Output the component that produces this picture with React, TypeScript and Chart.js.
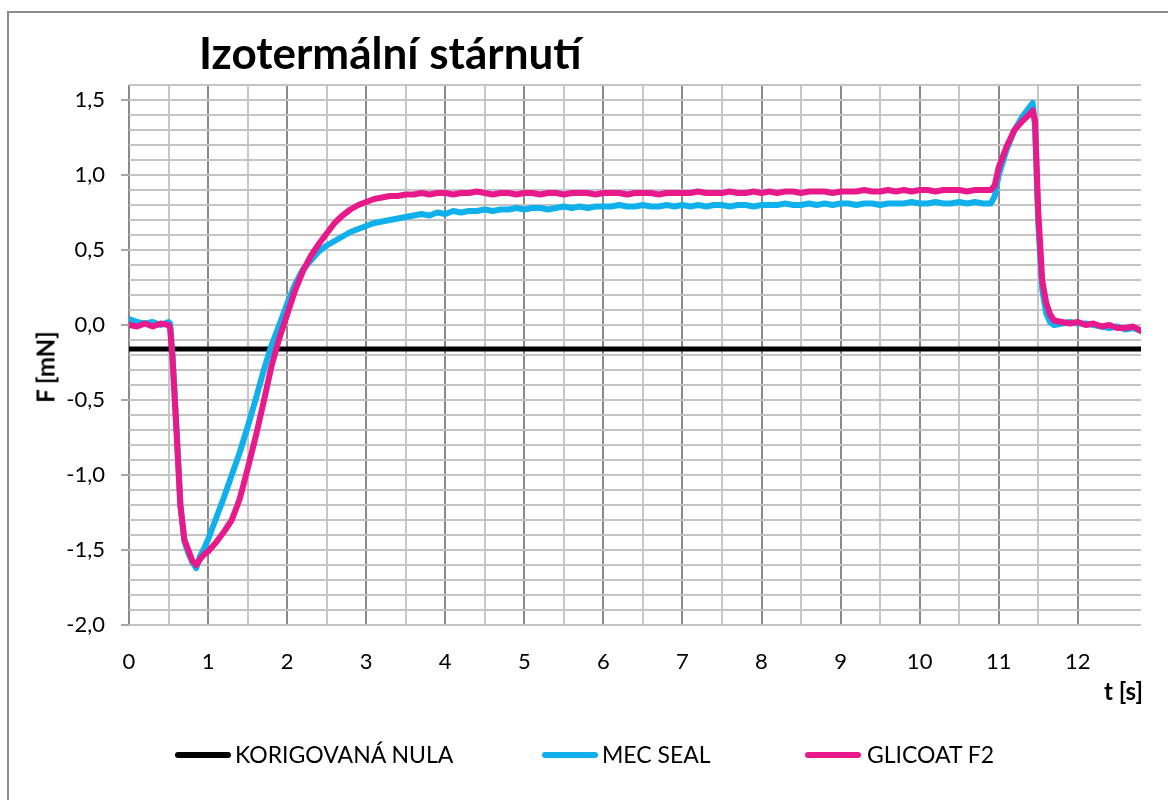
import React, { useEffect, useRef } from "react";
import { Chart, registerables } from "chart.js";

Chart.register(...registerables);

const TIME = [
  0, 0.1, 0.2, 0.3, 0.4, 0.5, 0.52, 0.55, 0.6, 0.65, 0.7, 0.75, 0.8, 0.85, 0.9, 0.95, 1.0,
  1.1, 1.2, 1.3, 1.4, 1.5, 1.6, 1.7, 1.8, 1.9, 2.0,
  2.1, 2.2, 2.3, 2.4, 2.5, 2.6, 2.7, 2.8, 2.9, 3.0,
  3.1, 3.2, 3.3, 3.4, 3.5, 3.6, 3.7, 3.8, 3.9, 4.0,
  4.1, 4.2, 4.3, 4.4, 4.5, 4.6, 4.7, 4.8, 4.9, 5.0,
  5.1, 5.2, 5.3, 5.4, 5.5, 5.6, 5.7, 5.8, 5.9, 6.0,
  6.1, 6.2, 6.3, 6.4, 6.5, 6.6, 6.7, 6.8, 6.9, 7.0,
  7.1, 7.2, 7.3, 7.4, 7.5, 7.6, 7.7, 7.8, 7.9, 8.0,
  8.1, 8.2, 8.3, 8.4, 8.5, 8.6, 8.7, 8.8, 8.9, 9.0,
  9.1, 9.2, 9.3, 9.4, 9.5, 9.6, 9.7, 9.8, 9.9, 10.0,
  10.1, 10.2, 10.3, 10.4, 10.5, 10.6, 10.7, 10.8, 10.9,
  10.95, 11.0, 11.1, 11.2, 11.3, 11.4, 11.43, 11.46, 11.5, 11.55, 11.6, 11.65, 11.7,
  11.8, 11.9, 12.0, 12.1, 12.2, 12.3, 12.4, 12.5, 12.6, 12.7, 12.8,
];

const MEC_SEAL = [
  0.04, 0.02, 0.01, 0.02, 0.0, 0.02, 0.01, -0.2, -0.68, -1.2, -1.44, -1.52, -1.58, -1.62, -1.54, -1.49, -1.43,
  -1.29, -1.15, -1.0, -0.85, -0.68, -0.5, -0.31, -0.14, 0.0, 0.14,
  0.27, 0.37, 0.43, 0.49, 0.53, 0.56, 0.59, 0.62, 0.64, 0.66,
  0.68, 0.69, 0.70, 0.71, 0.72, 0.73, 0.74, 0.73, 0.75, 0.74,
  0.76, 0.75, 0.76, 0.76, 0.77, 0.76, 0.77, 0.77, 0.78, 0.77,
  0.78, 0.78, 0.77, 0.78, 0.79, 0.78, 0.79, 0.78, 0.79, 0.79,
  0.79, 0.80, 0.79, 0.79, 0.80, 0.79, 0.79, 0.80, 0.79, 0.80,
  0.79, 0.80, 0.79, 0.80, 0.80, 0.79, 0.80, 0.80, 0.79, 0.80,
  0.80, 0.80, 0.81, 0.80, 0.80, 0.81, 0.80, 0.81, 0.80, 0.81,
  0.81, 0.80, 0.81, 0.81, 0.80, 0.81, 0.81, 0.81, 0.82, 0.81,
  0.81, 0.82, 0.81, 0.81, 0.82, 0.81, 0.82, 0.81, 0.81,
  0.86, 1.0, 1.17, 1.3, 1.39, 1.46, 1.48, 1.32, 0.68, 0.24, 0.08, 0.02, 0.0,
  0.01, 0.02, 0.01, 0.01, 0.0, -0.01, -0.02, -0.01, -0.03, -0.02, -0.04,
];

const GLICOAT_F2 = [
  0.0, -0.01, 0.01, -0.01, 0.01, 0.0, -0.02, -0.22, -0.7, -1.2, -1.43, -1.5, -1.57, -1.6, -1.56, -1.53, -1.51,
  -1.45, -1.38, -1.3, -1.16, -0.96, -0.75, -0.52, -0.28, -0.09, 0.07,
  0.23, 0.36, 0.46, 0.54, 0.61, 0.68, 0.73, 0.77, 0.80, 0.82,
  0.84, 0.85, 0.86, 0.86, 0.87, 0.87, 0.88, 0.87, 0.88, 0.88,
  0.87, 0.88, 0.88, 0.89, 0.88, 0.87, 0.88, 0.88, 0.87, 0.88,
  0.88, 0.87, 0.88, 0.88, 0.87, 0.88, 0.88, 0.88, 0.87, 0.88,
  0.88, 0.88, 0.87, 0.88, 0.88, 0.88, 0.87, 0.88, 0.88, 0.88,
  0.88, 0.89, 0.88, 0.88, 0.88, 0.89, 0.88, 0.88, 0.89, 0.88,
  0.89, 0.88, 0.89, 0.89, 0.88, 0.89, 0.89, 0.89, 0.88, 0.89,
  0.89, 0.89, 0.90, 0.89, 0.89, 0.90, 0.89, 0.90, 0.89, 0.90,
  0.90, 0.89, 0.90, 0.90, 0.90, 0.89, 0.90, 0.90, 0.90,
  0.93, 1.05, 1.19, 1.3, 1.36, 1.41, 1.43, 1.36, 0.76, 0.3, 0.15, 0.07, 0.03,
  0.02, 0.01, 0.02, 0.0, 0.01, -0.01, 0.0, -0.02, -0.02, -0.01, -0.04,
];

const NULA_T = [0, 12.8];
const NULA_F = [-0.16, -0.16];

const SERIES_NAMES = ["KORIGOVANÁ NULA", "MEC SEAL", "GLICOAT F2"];
const SERIES_COLORS = ["#000000", "#0fb0ec", "#e8198b"];

const TITLE = "Izotermální stárnutí";
const Y_TITLE = "F [mN]";
const X_TITLE = "t [s]";

const X_MIN = 0;
const X_MAX = 12.8;
const Y_MIN = -2.0;
const Y_MAX = 1.6;

const FONT = "Lato, 'Open Sans', sans-serif";

function toPoints(ts: number[], vs: number[]) {
  return ts.map((t, i) => ({ x: t, y: vs[i] }));
}

export default function App() {
  const ref = useRef<HTMLCanvasElement>(null);

  useEffect(() => {
    const canvas = ref.current;
    if (!canvas) return;
    const isMult = (v: number, step: number) =>
      Math.abs(v / step - Math.round(v / step)) < 1e-6;

    const chart = new Chart(canvas, {
      type: "line",
      data: {
        datasets: [
          {
            label: SERIES_NAMES[0],
            data: toPoints(NULA_T, NULA_F),
            borderColor: SERIES_COLORS[0],
            borderWidth: 5,
            pointRadius: 0,
            tension: 0,
            order: 3,
          },
          {
            label: SERIES_NAMES[1],
            data: toPoints(TIME, MEC_SEAL),
            borderColor: SERIES_COLORS[1],
            borderWidth: 6,
            pointRadius: 0,
            tension: 0,
            borderJoinStyle: "round",
            borderCapStyle: "round",
            order: 2,
          },
          {
            label: SERIES_NAMES[2],
            data: toPoints(TIME, GLICOAT_F2),
            borderColor: SERIES_COLORS[2],
            borderWidth: 6,
            pointRadius: 0,
            tension: 0,
            borderJoinStyle: "round",
            borderCapStyle: "round",
            order: 1,
          },
        ],
      },
      options: {
        animation: false,
        responsive: false,
        maintainAspectRatio: false,
        devicePixelRatio: 1,
        layout: { padding: { top: 85, right: 27, left: 0, bottom: 0 } },
        plugins: {
          legend: { display: false },
          tooltip: { enabled: false },
          title: { display: false },
        },
        scales: {
          x: {
            type: "linear",
            min: X_MIN,
            max: X_MAX,
            border: { display: false },
            afterFit: (scale: any) => {
              scale.height = 175;
            },
            grid: {
              drawTicks: false,
              lineWidth: 2,
              color: (ctx: any) => {
                const v = ctx.tick ? ctx.tick.value : 0;
                if (isMult(v, 1)) return "#8a8a8a";
                if (isMult(v, 0.5)) return "#c6c6c6";
                return "rgba(0,0,0,0)";
              },
            },
            ticks: {
              stepSize: 0.5,
              autoSkip: false,
              maxRotation: 0,
              minRotation: 0,
              padding: 24,
              color: "#000",
              font: { family: FONT, size: 22 },
              callback: (value: any) => {
                const v = Number(value);
                return isMult(v, 1) ? String(Math.round(v)) : "";
              },
            },
          },
          y: {
            type: "linear",
            min: Y_MIN,
            max: Y_MAX,
            border: { display: false },
            afterFit: (scale: any) => {
              scale.width = 129;
            },
            grid: {
              lineWidth: 2,
              color: "#c4c4c4",
              tickLength: 8,
              tickWidth: 2,
              tickColor: (ctx: any) => {
                const v = ctx.tick ? ctx.tick.value : 0.1;
                return isMult(v, 0.5) ? "#a6a6a6" : "rgba(0,0,0,0)";
              },
            },
            ticks: {
              stepSize: 0.1,
              autoSkip: false,
              padding: 16,
              color: "#000",
              font: { family: FONT, size: 22 },
              callback: (value: any) => {
                const v = Number(value);
                if (!isMult(v, 0.5)) return "";
                const r = Math.round(v * 10) / 10;
                return (Math.abs(r) < 1e-9 ? 0 : r).toFixed(1).replace(".", ",");
              },
            },
          },
        },
      },
    } as any);

    return () => chart.destroy();
  }, []);

  const legendItem = (i: number, lineLeft: number, textLeft: number) => (
    <React.Fragment key={i}>
      <div
        style={{
          position: "absolute",
          left: lineLeft,
          top: 752,
          width: 56,
          height: 6,
          borderRadius: 3,
          background: SERIES_COLORS[i],
        }}
      />
      <div
        style={{
          position: "absolute",
          left: textLeft,
          top: 740,
          fontFamily: FONT,
          fontSize: 23,
          lineHeight: "28px",
          color: "#000",
          whiteSpace: "nowrap",
        }}
      >
        {SERIES_NAMES[i]}
      </div>
    </React.Fragment>
  );

  return (
    <div
      style={{
        position: "fixed",
        left: 0,
        top: 0,
        width: 1168,
        height: 800,
        overflow: "hidden",
        background: "#fff",
      }}
    >
      <div
        style={{
          position: "absolute",
          left: 7,
          top: 11,
          width: 2000,
          height: 2000,
          border: "2px solid #8c8c8c",
        }}
      />
      <canvas
        ref={ref}
        width={1168}
        height={800}
        style={{ position: "absolute", left: 0, top: 0, width: 1168, height: 800 }}
      />
      <div
        style={{
          position: "absolute",
          left: 199,
          top: 26,
          fontFamily: FONT,
          fontWeight: 700,
          fontSize: 44,
          lineHeight: "53px",
          color: "#000",
          whiteSpace: "nowrap",
        }}
      >
        {TITLE}
      </div>
      <div
        style={{
          position: "absolute",
          left: 45,
          top: 367,
          transform: "translate(-50%, -50%) rotate(-90deg)",
          fontFamily: FONT,
          fontWeight: 700,
          fontSize: 24,
          lineHeight: "29px",
          color: "#000",
          whiteSpace: "nowrap",
        }}
      >
        {Y_TITLE}
      </div>
      <div
        style={{
          position: "absolute",
          left: 1104,
          top: 676,
          fontFamily: FONT,
          fontWeight: 700,
          fontSize: 24,
          lineHeight: "29px",
          color: "#000",
          whiteSpace: "nowrap",
        }}
      >
        {X_TITLE}
      </div>
      {legendItem(0, 175, 235)}
      {legendItem(1, 542, 602)}
      {legendItem(2, 805, 867)}
    </div>
  );
}
